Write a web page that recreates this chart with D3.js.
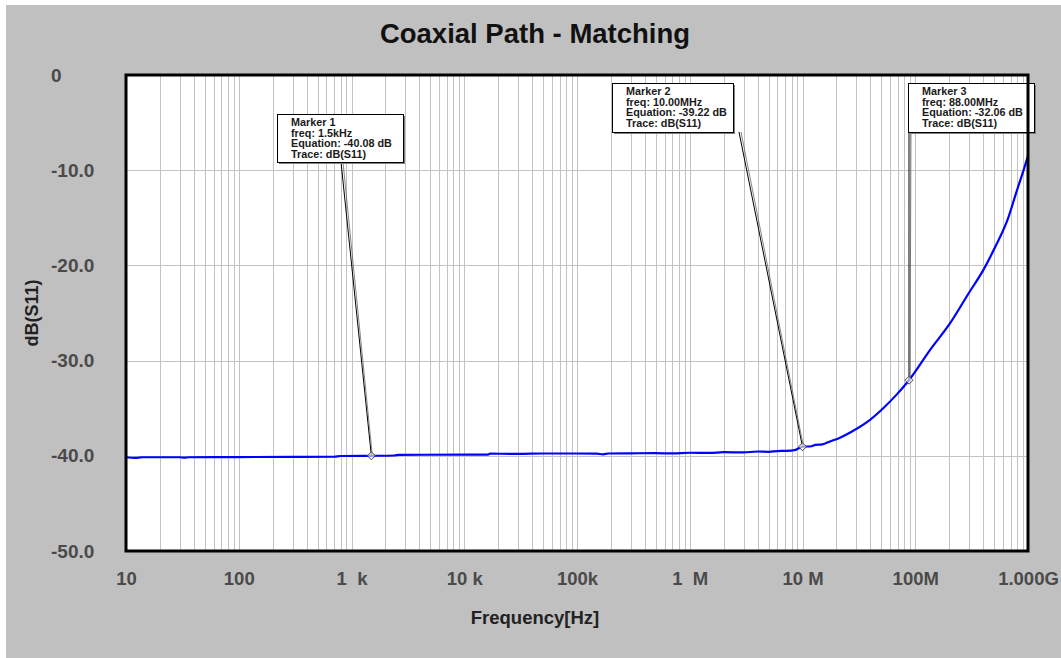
<!DOCTYPE html>
<html>
<head>
<meta charset="utf-8">
<script src="https://cdn.jsdelivr.net/npm/d3@7/dist/d3.min.js"></script>
<style>
  html, body { margin: 0; padding: 0; background: #ffffff; }
  svg { display: block; font-family: "Liberation Sans", Arial, sans-serif; }
</style>
</head>
<body>
<svg id="chart" width="1061" height="658"></svg>
<script>
// ---- data ----
const chartTitle = "Coaxial Path - Matching";
const xAxisTitle = "Frequency[Hz]";
const yAxisTitle = "dB(S11)";
const xTickValues = [10, 100, 1e3, 1e4, 1e5, 1e6, 1e7, 1e8, 1e9];
const xTickLabels = ["10", "100", "1  k", "10 k", "100k", "1  M", "10 M", "100M", "1.000G"];
const yTickValues = [0, -10, -20, -30, -40, -50];
const yTickLabels = ["0", "-10.0", "-20.0", "-30.0", "-40.0", "-50.0"];

const freqHz = [10, 12, 14, 30, 33, 36, 100, 300, 700, 800, 1500, 2400, 2600, 10000, 16000, 17000,
  30000, 50000, 100000, 150000, 170000, 190000, 300000, 500000, 700000, 1000000, 1500000, 2000000,
  3000000, 4000000, 5000000, 6000000, 7000000, 8500000, 10000000, 12000000, 13000000, 15000000,
  17500000, 21500000, 27000000, 37000000, 52000000, 68000000, 88000000, 135000000, 203000000,
  295000000, 401000000, 510000000, 668000000, 794000000, 908000000, 1000000000];
const dbS11 = [-40.15, -40.22, -40.15, -40.15, -40.2, -40.15, -40.13, -40.12, -40.1, -40.02, -40.0, -39.97, -39.9,
  -39.88, -39.88, -39.78, -39.8, -39.76, -39.76, -39.78, -39.85, -39.76, -39.74, -39.72, -39.75, -39.68, -39.7, -39.62,
  -39.65, -39.55, -39.58, -39.5, -39.48, -39.4, -39.05, -39.0, -38.85, -38.8,
  -38.5, -38.1, -37.5, -36.5, -35.0, -33.6, -32.06, -28.9, -26.1,
  -23.0, -20.5, -18.1, -15.0, -12.2, -10.1, -8.5];

const markerNames = ["Marker 1", "Marker 2", "Marker 3"];
const markerFreqs = [1500, 10000000, 88000000];
const markerFreqText = ["1.5kHz", "10.00MHz", "88.00MHz"];
const markerValues = [-40.08, -39.22, -32.06];
const markerTraces = ["dB(S11)", "dB(S11)", "dB(S11)"];

// ---- layout ----
const W = 1061, H = 658;
const plot = { left: 126, right: 1028, top: 75, bottom: 551 };
const boxes = [
  { x: 277, y: 114, w: 126, h: 48, lx: 341 },
  { x: 612, y: 83, w: 121, h: 49, lx: 739 },
  { x: 908, y: 83, w: 126, h: 49, lx: 909 }
];

const svg = d3.select("#chart");

// background
svg.append("rect").attr("x", 6).attr("y", 5).attr("width", W - 6).attr("height", H - 5).attr("fill", "#c0c0c0");

const x = d3.scaleLog().domain([10, 1e9]).range([plot.left, plot.right]);
const y = d3.scaleLinear().domain([-50, 0]).range([plot.bottom, plot.top]);

// plot area
svg.append("rect").attr("x", plot.left).attr("y", plot.top)
  .attr("width", plot.right - plot.left).attr("height", plot.bottom - plot.top).attr("fill", "#ffffff");

// vertical grid (all decade sub-ticks)
const gridG = svg.append("g");
gridG.selectAll("line.vg").data(x.ticks()).enter().append("line")
  .attr("x1", d => Math.round(x(d)) + 0.5).attr("x2", d => Math.round(x(d)) + 0.5)
  .attr("y1", plot.top).attr("y2", plot.bottom)
  .attr("stroke", "#c3c3c3").attr("stroke-width", 1);
gridG.selectAll("line.hg").data(yTickValues.slice(1, -1)).enter().append("line")
  .attr("x1", plot.left).attr("x2", plot.right)
  .attr("y1", d => Math.round(y(d)) + 0.5).attr("y2", d => Math.round(y(d)) + 0.5)
  .attr("stroke", "#c3c3c3").attr("stroke-width", 1);

// curve
const series = freqHz.map((f, i) => ({ f, v: dbS11[i] }));
const line = d3.line().x(d => x(d.f)).y(d => y(d.v)).curve(d3.curveMonotoneX);
svg.append("path").datum(series).attr("d", line)
  .attr("fill", "none").attr("stroke", "#0000ff").attr("stroke-width", 2.2).attr("stroke-linejoin", "round");

// interpolation helper for marker position on curve
function curveAt(f) {
  const lf = Math.log10(f);
  for (let i = 0; i < series.length - 1; i++) {
    const a = series[i], b = series[i + 1];
    if (f >= a.f && f <= b.f) {
      const t = (lf - Math.log10(a.f)) / (Math.log10(b.f) - Math.log10(a.f));
      return a.v + t * (b.v - a.v);
    }
  }
  return series[series.length - 1].v;
}

// markers
const markerG = svg.append("g");
markerNames.forEach((name, i) => {
  const mx = x(markerFreqs[i]);
  const my = y(curveAt(markerFreqs[i]));
  const b = boxes[i];
  // leader lines
  markerG.append("line").attr("x1", b.lx).attr("y1", b.y + b.h).attr("x2", mx).attr("y2", my)
    .attr("stroke", "#000").attr("stroke-width", 1);
  markerG.append("line").attr("x1", b.lx + 2).attr("y1", b.y + b.h).attr("x2", mx + 1).attr("y2", my)
    .attr("stroke", "#555").attr("stroke-width", 0.7);
  // diamond
  markerG.append("path")
    .attr("d", `M${mx},${my - 4} L${mx + 4},${my} L${mx},${my + 4} L${mx - 4},${my} Z`)
    .attr("fill", "#ffffff").attr("fill-opacity", 0.6).attr("stroke", "#444").attr("stroke-width", 1);
  // box shadow + box
  markerG.append("rect").attr("x", b.x + 2).attr("y", b.y + 2).attr("width", b.w).attr("height", b.h)
    .attr("fill", "#808080");
  markerG.append("rect").attr("x", b.x + 0.5).attr("y", b.y + 0.5).attr("width", b.w).attr("height", b.h)
    .attr("fill", "#ffffff").attr("stroke", "#000").attr("stroke-width", 1);
  const lines = [name, "freq: " + markerFreqText[i], "Equation: " + markerValues[i].toFixed(2) + " dB", "Trace: " + markerTraces[i]];
  lines.forEach((t, j) => {
    markerG.append("text").attr("x", b.x + 14).attr("y", b.y + 12 + j * 10.6)
      .attr("font-size", "10.8px").attr("font-weight", "bold").attr("fill", "#1a1a1a").text(t);
  });
});

// frame
svg.append("rect").attr("x", plot.left).attr("y", plot.top)
  .attr("width", plot.right - plot.left).attr("height", plot.bottom - plot.top)
  .attr("fill", "none").attr("stroke", "#000").attr("stroke-width", 3);

// axes
const xAxis = d3.axisBottom(x).tickValues(xTickValues)
  .tickFormat((d, i) => xTickLabels[i]).tickSize(0).tickPadding(21);
const gx = svg.append("g").attr("transform", `translate(0,${plot.bottom})`).call(xAxis);
gx.select(".domain").remove();
gx.selectAll("text").attr("font-size", "18.5px").attr("font-weight", "bold").attr("fill", "#4a4a4a")
  .attr("font-family", "Liberation Sans, Arial, sans-serif").style("white-space", "pre").attr("xml:space", "preserve");

const yAxis = d3.axisLeft(y).tickValues(yTickValues)
  .tickFormat((d, i) => yTickLabels[i]).tickSize(0);
const gy = svg.append("g").attr("transform", `translate(${plot.left},0)`).call(yAxis);
gy.select(".domain").remove();
gy.selectAll("text").attr("x", 51 - plot.left).attr("text-anchor", "start")
  .attr("font-size", "19px").attr("font-weight", "bold").attr("fill", "#4a4a4a")
  .attr("font-family", "Liberation Sans, Arial, sans-serif");

// titles
svg.append("text").attr("x", 535).attr("y", 43).attr("text-anchor", "middle")
  .attr("font-size", "27.5px").attr("font-weight", "bold").attr("fill", "#111").text(chartTitle);
svg.append("text").attr("x", 535).attr("y", 624).attr("text-anchor", "middle")
  .attr("font-size", "18.5px").attr("font-weight", "bold").attr("fill", "#222").text(xAxisTitle);
svg.append("text").attr("transform", "translate(38,313) rotate(-90)").attr("text-anchor", "middle")
  .attr("font-size", "18px").attr("font-weight", "bold").attr("fill", "#222").text(yAxisTitle);
</script>
</body>
</html>
